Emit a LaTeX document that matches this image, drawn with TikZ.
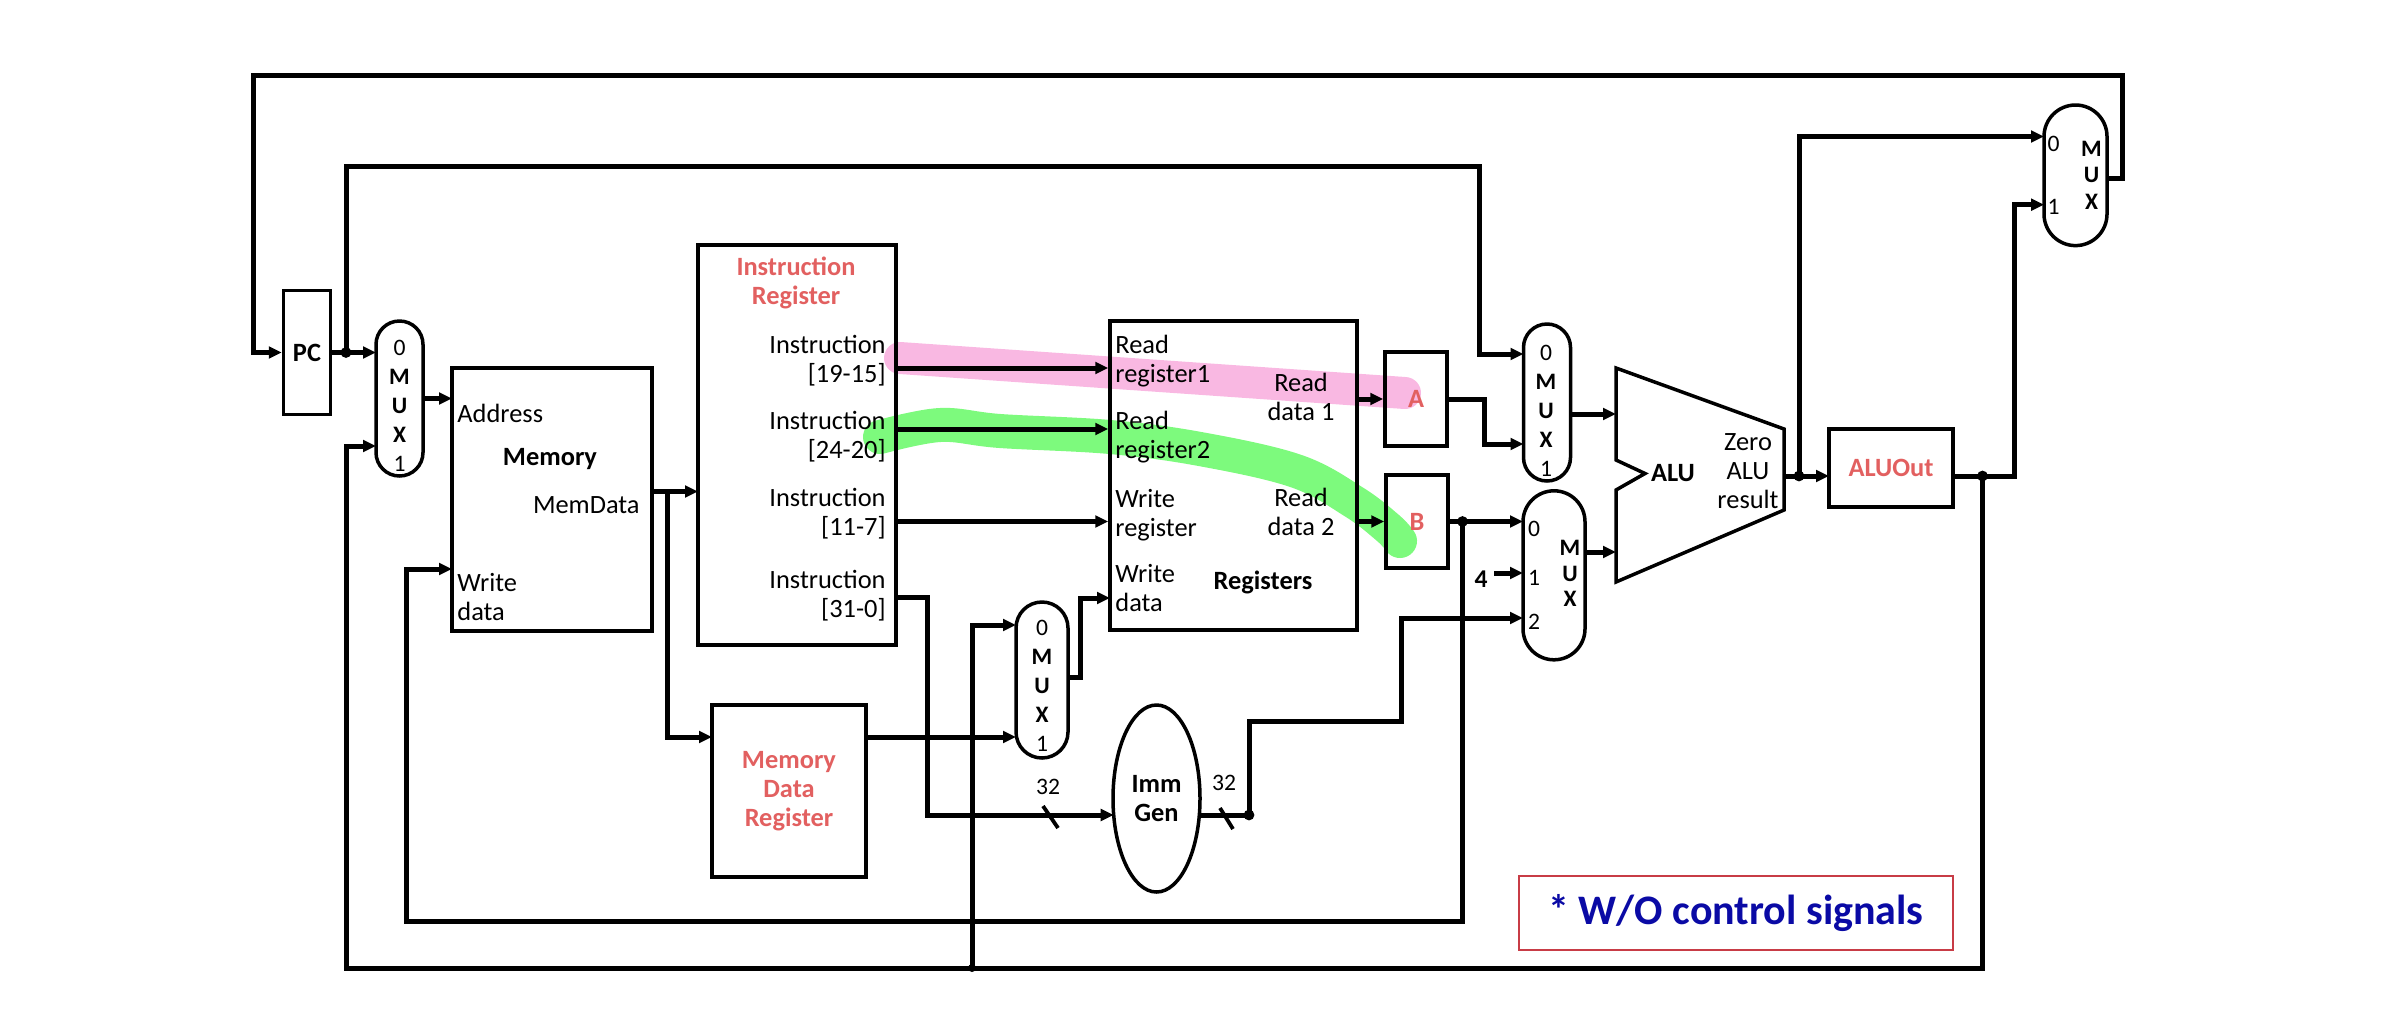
\documentclass[tikz,border=0pt]{standalone}
\usepackage{fontspec}
\setmainfont{Carlito}
\usetikzlibrary{arrows.meta,shapes.geometric}
\definecolor{rouge}{RGB}{226,96,96}
\definecolor{bleu}{RGB}{10,10,165}
\definecolor{rose}{RGB}{249,184,226}
\definecolor{vert}{RGB}{125,250,125}
\definecolor{cadre}{RGB}{200,60,70}
\begin{document}
\begin{tikzpicture}[x=0.5pt, y=-0.5pt]
\tikzset{boite/.style={draw, line width=1.75pt, inner sep=0pt, align=center, font=\fontsize{13.2}{14.5}\selectfont},
  muxnoeud/.style={boite, rounded corners=#1},
  fil/.style={line width=2.5pt},
  fleche/.style={fil, -{Triangle[length=6.5pt,width=5.8pt]}},
  texte/.style={inner sep=0pt, font=\fontsize{13.2}{14.5}\selectfont},
  petit/.style={inner sep=0pt, align=center, font=\fontsize{11.8}{14.5}\selectfont}}
\useasboundingbox (0,0) rectangle (2386,1029);
\draw[line width=16pt, line cap=round, rose] (900,358) -- (1405,393);
\draw[line width=17pt, line cap=round, line join=round, vert] plot[smooth, tension=0.6] coordinates {(880,437) (940,425) (1000,431) (1110,437) (1200,449) (1296,471) (1354,502) (1388,528) (1400,541)};
\node[boite, minimum width=23.5pt, minimum height=62pt] (PC) at (307,352.5) {\textbf{PC}};
\node[muxnoeud=11.75pt, minimum width=23.5pt, minimum height=77.5pt] (M1) at (399.5,398.5) {};
\node[boite, minimum width=100pt, minimum height=131.5pt] (Mem) at (552,499.5) {};
\node[boite, minimum width=99pt, minimum height=200pt] (IR) at (797,445) {};
\node[boite, minimum width=123.5pt, minimum height=154.5pt] (Reg) at (1233.5,475.5) {};
\node[boite, minimum width=31pt, minimum height=47pt, text=rouge] (A) at (1416,399) {\textbf{A}};
\node[boite, minimum width=31pt, minimum height=46.5pt, text=rouge] (B) at (1417,521.5) {\textbf{B}};
\node[boite, minimum width=77pt, minimum height=86pt, text=rouge] (MDR) at (789,791) {\textbf{Memory}\\\textbf{Data}\\\textbf{Register}};
\node[muxnoeud=13pt, minimum width=26pt, minimum height=78pt] (M2) at (1042,680) {};
\node[boite, ellipse, minimum width=43.5pt, minimum height=93.5pt] (Imm) at (1156.5,798.5) {\textbf{Imm}\\\textbf{Gen}};
\node[muxnoeud=11.75pt, minimum width=23.5pt, minimum height=78.5pt] (M3) at (1547,402.5) {};
\node[muxnoeud=15.5pt, minimum width=31pt, minimum height=84.5pt] (M4) at (1554,575.3) {};
\node[boite, minimum width=62pt, minimum height=39pt, text=rouge] (ALUOut) at (1891,468) {\textbf{ALUOut}};
\node[muxnoeud=15.75pt, minimum width=31.5pt, minimum height=70.3pt] (M5) at (2075.5,175.3) {};
\node[draw=cadre, line width=0.7pt, minimum width=217pt, minimum height=37pt, text=bleu, font=\fontsize{21}{24}\selectfont\bfseries] (Note) at (1736,913) {* W/O control signals};
\draw[boite, line join=miter] (1616,368) -- (1784,429) -- (1784,510) -- (1616,582) -- (1616,490) -- (1645,473.5) -- (1616,460) -- cycle;
\node[texte] (T1) at (550,459) {\textbf{Memory}};
\node[texte, anchor=west] (T2) at (457,413) {Address};
\node[texte, anchor=east] (T3) at (640,505) {MemData};
\node[texte, anchor=west, align=left] (T4) at (457,597) {Write\\data};
\node[texte, align=center, text=rouge] (T5) at (796,283) {\textbf{Instruction}\\\textbf{Register}};
\node[texte, anchor=east, align=right] (T6) at (886,360.5) {Instruction\\{[19-15]}};
\node[texte, anchor=east, align=right] (T7) at (886,437) {Instruction\\{[24-20]}};
\node[texte, anchor=east, align=right] (T8) at (886,513.5) {Instruction\\{[11-7]}};
\node[texte, anchor=east, align=right] (T9) at (886,596) {Instruction\\{[31-0]}};
\node[texte, anchor=west, align=left] (T10) at (1115,361) {Read\\register1};
\node[texte, anchor=west, align=left] (T11) at (1115,437) {Read\\register2};
\node[texte, anchor=west, align=left] (T12) at (1115,515) {Write\\register};
\node[texte, anchor=west, align=left] (T13) at (1115,588) {Write\\data};
\node[texte] (T14) at (1263,582) {\textbf{Registers}};
\node[texte, align=center] (T15) at (1301,396.5) {Read\\data 1};
\node[texte, align=center] (T16) at (1301,511.5) {Read\\data 2};
\node[texte] (T17) at (1673,473) {\textbf{ALU}};
\node[texte, align=center] (T18) at (1748,471) {Zero\\ALU\\result};
\node[petit] (T19) at (399.5,405.4) {0\\\textbf{M}\\\textbf{U}\\\textbf{X}\\1};
\node[petit] (T20) at (1546,410.7) {0\\\textbf{M}\\\textbf{U}\\\textbf{X}\\1};
\node[petit] (T21) at (1042,685.8) {0\\\textbf{M}\\\textbf{U}\\\textbf{X}\\1};
\node[petit] (T22) at (1534,529.3) {0};
\node[petit] (T23) at (1534,578.3) {1};
\node[petit] (T24) at (1534,621.7) {2};
\node[petit, font=\fontsize{11.8}{12.75}\selectfont] (T25) at (1570,573.6) {\textbf{M}\\\textbf{U}\\\textbf{X}};
\node[petit] (T26) at (2053.6,144) {0};
\node[petit] (T27) at (2053.6,207.3) {1};
\node[petit, font=\fontsize{11.8}{13.4}\selectfont] (T28) at (2091.5,175.3) {\textbf{M}\\\textbf{U}\\\textbf{X}};
\node[petit, font=\fontsize{12.8}{14.5}\selectfont] (T29) at (1481,579) {\textbf{4}};
\node[petit] (T30) at (1048,787) {32};
\node[petit] (T31) at (1224,783) {32};
\coordinate (M1a) at (376,352.5);
\coordinate (M1b) at (376,446);
\coordinate (Mema) at (452,398.5);
\coordinate (Memw) at (452,569);
\coordinate (Memd) at (652,491.5);
\coordinate (IRin) at (698,491.5);
\coordinate (IRa) at (896,368);
\coordinate (IRb) at (896,429);
\coordinate (IRc) at (896,521.5);
\coordinate (IRd) at (896,597);
\coordinate (Rwd) at (1110,598);
\coordinate (Rda) at (1357,399);
\coordinate (Rdb) at (1357,521.5);
\coordinate (MDRi) at (712,737);
\coordinate (MDRo) at (866,737);
\coordinate (M2a) at (1016,625);
\coordinate (M2b) at (1016,737);
\coordinate (M2o) at (1068,677);
\coordinate (Immi) at (1113.7,815);
\coordinate (Immo) at (1199.3,815);
\coordinate (M3a) at (1523.5,354);
\coordinate (M3b) at (1523.5,444);
\coordinate (M3o) at (1570.5,414);
\coordinate (M4a) at (1523,521.5);
\coordinate (M4b) at (1523,573);
\coordinate (M4c) at (1523,618);
\coordinate (M4o) at (1585,552);
\coordinate (ALUa) at (1616,414);
\coordinate (ALUb) at (1616,552);
\coordinate (ALUo) at (1784,476);
\coordinate (Oa) at (1829,476);
\coordinate (Ob) at (1953,476);
\coordinate (M5a) at (2044,136.5);
\coordinate (M5b) at (2044,204.7);
\coordinate (M5o) at (2107,178.6);
\coordinate (Q4) at (1494,573);
\coordinate (J1) at (346,352.5);
\coordinate (J2) at (1982.5,476);
\coordinate (J3) at (972,968);
\coordinate (J4) at (1462.5,521.5);
\coordinate (J5) at (667,491.5);
\coordinate (J6) at (1249,815);
\coordinate (J7) at (1799,476);
\coordinate (C1) at (2122,75.5);
\coordinate (C2) at (253.5,75.5);
\coordinate (C3) at (346,166);
\coordinate (C4) at (1479,166);
\coordinate (C5) at (2014.5,476);
\coordinate (C6) at (1982.5,968);
\coordinate (C7) at (346,968);
\coordinate (C8) at (1462.5,921.5);
\coordinate (C9) at (406,921.5);
\coordinate (C10) at (927,815);
\coordinate (C11) at (1249,721.5);
\coordinate (C12) at (1401.5,721.5);
\coordinate (C13) at (1484,399);
\coordinate (C14) at (1080,677);
\draw[fleche] (M5o) -| (C1) -- (C2) |- (PC.west);
\draw[fleche] (PC.east) -- (M1a);
\draw[fleche] (J1) -- (C3) -- (C4) |- (M3a);
\draw[fleche] (Ob) -- (C5) |- (M5b);
\draw[fleche] (J2) -- (C6) -- (C7) |- (M1b);
\draw[fleche] (J3) |- (M2a);
\draw[fleche] (M1.east) -- (Mema);
\draw[fleche] (J4) -- (C8) -- (C9) |- (Memw);
\draw[fleche] (Memd) -- (IRin);
\draw[fleche] (J5) |- (MDRi);
\draw[fleche] (MDRo) -- (M2b);
\draw[fleche] (M2o) -- (C14) |- (Rwd);
\draw[fleche] (IRa) -- (IRa -| Reg.west);
\draw[fleche] (IRb) -- (IRb -| Reg.west);
\draw[fleche] (IRc) -- (IRc -| Reg.west);
\draw[fleche] (IRd) -| (C10) -- (Immi);
\draw[fleche] (Immo) -- (J6) -- (C11) -- (C12) |- (M4c);
\draw[fleche] (Rda) -- (A.west);
\draw[fleche] (Rdb) -- (B.west);
\draw[fleche] (A.east) -- (C13) |- (M3b);
\draw[fleche] (B.east) -- (M4a);
\draw[fleche] (Q4) -- (M4b);
\draw[fleche] (M3o) -- (ALUa);
\draw[fleche] (M4o) -- (ALUb);
\draw[fleche] (ALUo) -- (Oa);
\draw[fleche] (J7) |- (M5a);
\draw[line width=1.9pt] (1043,806) -- (1058,828);
\draw[line width=1.9pt] (1220,808) -- (1233,829);
\fill (J1) circle (2.7pt);
\fill (J2) circle (2.7pt);
\fill (J3) circle (2pt);
\fill (J4) circle (2.7pt);
\fill (J6) circle (2.7pt);
\fill (J7) circle (2.7pt);
\end{tikzpicture}
\end{document}
